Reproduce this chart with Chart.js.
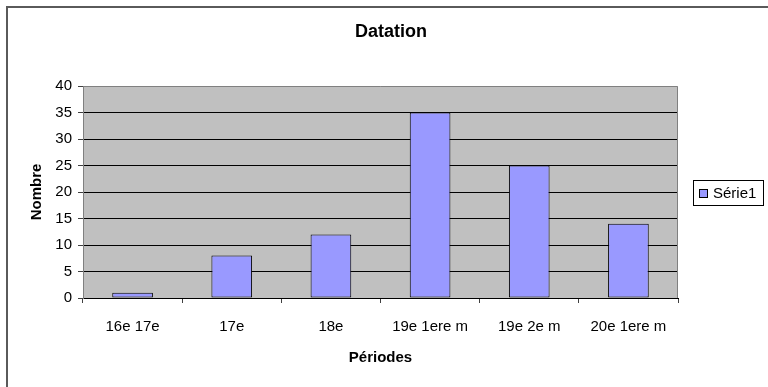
<!DOCTYPE html>
<html lang="fr">
<head>
    <meta charset="UTF-8">
    <title>Datation</title>
    <style>
        html, body { margin: 0; padding: 0; background: #fff; }
        #wrap { width: 768px; height: 387px; }
    </style>
    <script src="https://cdn.jsdelivr.net/npm/chart.js"></script>
</head>
<body>
    <div id="wrap"><canvas id="datationChart" width="768" height="387"></canvas></div>
    <script>
    // Données du graphique
    const periodes = ['16e 17e', '17e', '18e', '19e 1ere m', '19e 2e m', '20e 1ere m'];
    const nombres = [1, 8, 12, 35, 25, 14];
    const nomSerie = 'Série1';
    const titre = 'Datation';
    const yTicks = [0, 5, 10, 15, 20, 25, 30, 35, 40];

    const FONT = "'Liberation Sans', Arial, sans-serif";

    // Fond gris de la zone de tracé + cadre extérieur
    const fondPlugin = {
        id: 'fond',
        beforeDraw(chart) {
            const { ctx, chartArea: a } = chart;
            ctx.save();
            ctx.fillStyle = '#fff';
            ctx.fillRect(0, 0, chart.width, chart.height);
            ctx.strokeStyle = '#5a5a5a';
            ctx.lineWidth = 2;
            ctx.strokeRect(7, 7, chart.width + 10, chart.height + 10);
            ctx.fillStyle = '#c0c0c0';
            ctx.fillRect(a.left, a.top, a.right - a.left, a.bottom - a.top);
            ctx.restore();
        },
        afterDatasetsDraw(chart) {
            const { ctx, chartArea: a } = chart;
            ctx.save();
            ctx.strokeStyle = '#808080';
            ctx.lineWidth = 1;
            ctx.beginPath();
            ctx.moveTo(a.left, a.top + 0.5);
            ctx.lineTo(a.right - 0.5, a.top + 0.5);
            ctx.lineTo(a.right - 0.5, a.bottom);
            ctx.stroke();
            ctx.restore();
        }
    };

    // Titre centré sur tout le cadre, et légende encadrée à droite
    const texteLegendePlugin = {
        id: 'texteLegende',
        afterDraw(chart) {
            const { ctx } = chart;
            const ds = chart.data.datasets[0];
            ctx.save();
            ctx.fillStyle = '#000';
            ctx.font = 'bold 18px ' + FONT;
            ctx.textAlign = 'center';
            ctx.textBaseline = 'middle';
            ctx.fillText(titre, 391, 32);

            ctx.textAlign = 'left';
            ctx.fillStyle = '#fff';
            ctx.strokeStyle = '#000';
            ctx.lineWidth = 1;
            ctx.fillRect(693.5, 180.5, 70, 25);
            ctx.strokeRect(693.5, 180.5, 70, 25);
            ctx.fillStyle = ds.backgroundColor;
            ctx.fillRect(699.5, 189.5, 8, 8);
            ctx.strokeRect(699.5, 189.5, 8, 8);
            ctx.fillStyle = '#000';
            ctx.font = '15px ' + FONT;
            ctx.fillText(ds.label, 713, 194);
            ctx.restore();
        }
    };

    new Chart(document.getElementById('datationChart'), {
        type: 'bar',
        data: {
            labels: periodes,
            datasets: [{
                label: nomSerie,
                data: nombres,
                backgroundColor: '#9999ff',
                borderColor: '#000',
                borderWidth: 1,
                borderSkipped: false,
                categoryPercentage: 1,
                barPercentage: 0.41
            }]
        },
        options: {
            responsive: false,
            animation: false,
            layout: { padding: { left: 28, right: 90, top: 86, bottom: 16 } },
            plugins: {
                legend: { display: false },
                tooltip: { enabled: false },
                title: { display: false }
            },
            scales: {
                x: {
                    offset: true,
                    grid: {
                        offset: true,
                        drawOnChartArea: false,
                        drawTicks: true,
                        tickLength: 5,
                        tickColor: '#404040'
                    },
                    border: { color: '#000', width: 1 },
                    ticks: {
                        color: '#000',
                        padding: 15,
                        maxRotation: 0,
                        font: { family: FONT, size: 15 }
                    },
                    title: {
                        display: true,
                        text: 'Périodes',
                        color: '#000',
                        font: { family: FONT, size: 15, weight: 'bold' },
                        padding: { top: 0, bottom: 4 }
                    },
                    afterFit(scale) { scale.height = 73; }
                },
                y: {
                    min: 0,
                    max: 40,
                    afterBuildTicks(scale) { scale.ticks = yTicks.map(v => ({ value: v })); },
                    grid: {
                        color: ctx => (ctx.tick && ctx.tick.value > 0 && ctx.tick.value < 40) ? '#000' : 'rgba(0,0,0,0)',
                        tickColor: '#404040',
                        tickLength: 5,
                        lineWidth: 1
                    },
                    border: { color: '#808080', width: 1 },
                    ticks: {
                        color: '#000',
                        padding: 6,
                        font: { family: FONT, size: 15 }
                    },
                    title: {
                        display: true,
                        text: 'Nombre',
                        color: '#000',
                        font: { family: FONT, size: 15, weight: 'bold' },
                        padding: { top: 0, bottom: 0 }
                    },
                    afterFit(scale) { scale.width = 55; }
                }
            }
        },
        plugins: [fondPlugin, texteLegendePlugin]
    });
    </script>
</body>
</html>
